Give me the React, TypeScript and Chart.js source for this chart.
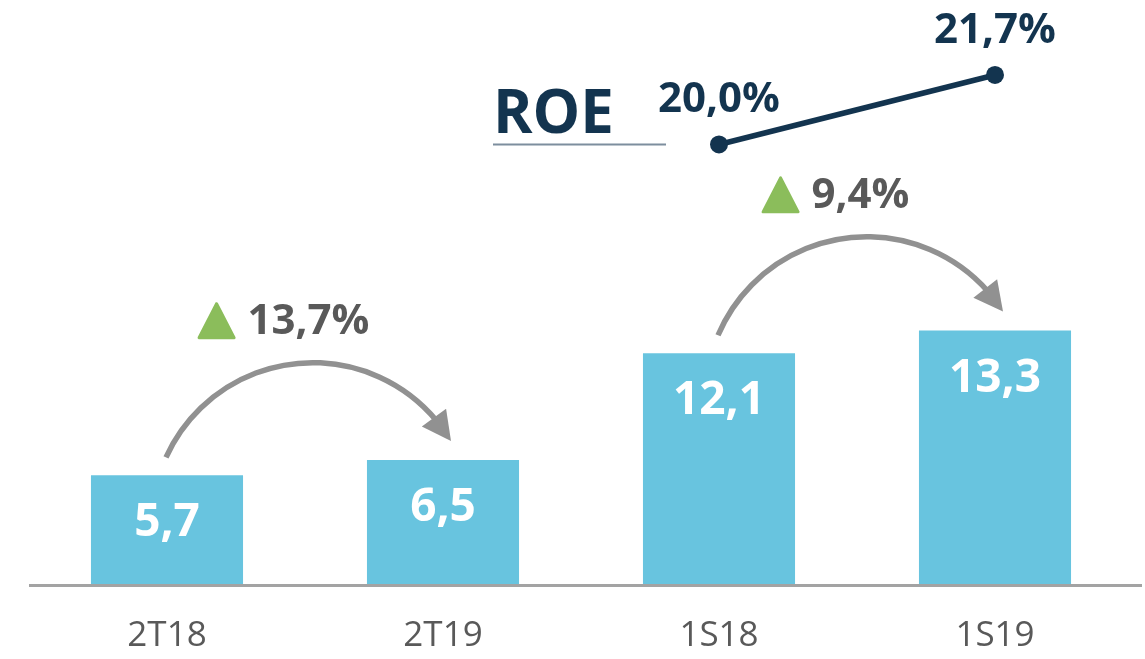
import React, { useEffect, useRef } from 'react';
import { Chart, registerables } from 'chart.js';

Chart.register(...registerables);

// ---- data ----
const categories = ['2T18', '2T19', '1S18', '1S19'];
const revenue = [5.7, 6.5, 12.1, 13.3];
const roe: (number | null)[] = [null, null, 20.0, 21.7];
const growthPairs = [
  [0, 1],
  [2, 3],
];
const growthLabels = ['13,7%', '9,4%'];
const roeTitle = 'ROE';

// ---- style ----
const BAR_COLOR = '#68C4DF';
const NAVY = '#13344F';
const GREY_TEXT = '#595959';
const ARROW_GREY = '#919191';
const AXIS_GREY = '#A3A3A3';
const GREEN = '#8BBD5B';
const FONT = '"Open Sans", "DejaVu Sans", sans-serif';

const fmt = (v: number) => v.toFixed(1).replace('.', ',');

const overlayPlugin = {
  id: 'overlay',
  beforeDatasetsDraw(chart: any) {
    const { ctx, chartArea, scales } = chart;
    const y0 = scales.y.getPixelForValue(0);
    ctx.save();
    ctx.strokeStyle = AXIS_GREY;
    ctx.lineWidth = 3;
    ctx.beginPath();
    ctx.moveTo(chartArea.left, y0 + 1.5);
    ctx.lineTo(chart.width - 3, y0 + 1.5);
    ctx.stroke();
    ctx.restore();
  },
  afterDatasetsDraw(chart: any) {
    const ctx = chart.ctx as CanvasRenderingContext2D;
    const bars = chart.getDatasetMeta(0).data;
    const pts = chart.getDatasetMeta(1).data;
    ctx.save();

    // bar value labels
    ctx.font = `bold 46px ${FONT}`;
    ctx.fillStyle = '#FFFFFF';
    ctx.textAlign = 'center';
    ctx.textBaseline = 'middle';
    bars.forEach((b: any, i: number) => {
      ctx.fillText(fmt(revenue[i]), b.x, b.y + 48);
    });

    // growth arrows
    growthPairs.forEach(([a, b], k) => {
      const A = bars[a];
      const B = bars[b];
      const sx = A.x - 1;
      const sy = A.y - 18;
      const ex = B.x + 8;
      const ey = B.y - 19;
      const px = (sx + ex) / 2;
      const py = (A.y + B.y) / 2 - 105;
      // circumcircle through start, apex and tip
      const d = 2 * (sx * (py - ey) + px * (ey - sy) + ex * (sy - py));
      const s1 = sx * sx + sy * sy;
      const s2 = px * px + py * py;
      const s3 = ex * ex + ey * ey;
      const ux = (s1 * (py - ey) + s2 * (ey - sy) + s3 * (sy - py)) / d;
      const uy = (s1 * (ex - px) + s2 * (sx - ex) + s3 * (px - sx)) / d;
      const r = Math.hypot(sx - ux, sy - uy);
      const a1 = Math.atan2(sy - uy, sx - ux);
      const a2 = Math.atan2(ey - uy, ex - ux);
      const headLen = 29;
      const headW = 30;
      ctx.strokeStyle = ARROW_GREY;
      ctx.lineWidth = 5.5;
      ctx.lineCap = 'butt';
      ctx.beginPath();
      ctx.arc(ux, uy, r, a1, a2 - (headLen - 4) / r, false);
      ctx.stroke();
      // head
      const aHead = a2 - (headLen * 0.5) / r;
      const tx = -Math.sin(aHead);
      const ty = Math.cos(aHead);
      const bx = ex - tx * headLen;
      const by = ey - ty * headLen;
      const nx = -ty;
      const ny = tx;
      ctx.fillStyle = ARROW_GREY;
      ctx.beginPath();
      ctx.moveTo(ex, ey);
      ctx.lineTo(bx + (nx * headW) / 2, by + (ny * headW) / 2);
      ctx.lineTo(bx - (nx * headW) / 2, by - (ny * headW) / 2);
      ctx.closePath();
      ctx.fill();

      // growth label with green triangle
      const label = growthLabels[k];
      ctx.font = `bold 42px ${FONT}`;
      const tw = ctx.measureText(label).width;
      const triW = 38;
      const triH = 37;
      const gap = 12;
      const groupW = triW + gap + tw;
      const gx = px - 25 - groupW / 2;
      const cy = py - 42;
      ctx.fillStyle = GREEN;
      ctx.strokeStyle = GREEN;
      ctx.lineWidth = 3;
      ctx.lineJoin = 'round';
      ctx.beginPath();
      ctx.moveTo(gx + 1.5, cy + triH / 2 - 1.5);
      ctx.lineTo(gx + triW - 1.5, cy + triH / 2 - 1.5);
      ctx.lineTo(gx + triW / 2, cy - triH / 2 + 1.5);
      ctx.closePath();
      ctx.fill();
      ctx.stroke();
      ctx.fillStyle = GREY_TEXT;
      ctx.textAlign = 'left';
      ctx.textBaseline = 'middle';
      ctx.fillText(label, gx + triW + gap, cy + 1);
    });

    // ROE labels
    ctx.font = `bold 42px ${FONT}`;
    ctx.fillStyle = NAVY;
    ctx.textAlign = 'center';
    ctx.textBaseline = 'middle';
    pts.forEach((p: any, i: number) => {
      const v = roe[i];
      if (v == null || p.skip) return;
      ctx.fillText(fmt(v) + '%', p.x, p.y - 44);
    });

    // ROE title + underline, anchored to the first ROE point
    const first = pts.find((p: any, i: number) => roe[i] != null);
    if (first) {
      ctx.font = `bold 60px ${FONT}`;
      ctx.textAlign = 'left';
      ctx.textBaseline = 'alphabetic';
      ctx.fillStyle = NAVY;
      ctx.fillText(roeTitle, first.x - 226, first.y - 11.5);
      ctx.strokeStyle = '#7D8E9E';
      ctx.lineWidth = 2;
      ctx.beginPath();
      ctx.moveTo(first.x - 226, first.y);
      ctx.lineTo(first.x - 53, first.y);
      ctx.stroke();
    }
    ctx.restore();
  },
};

export default function App() {
  const ref = useRef<HTMLCanvasElement | null>(null);
  useEffect(() => {
    if (!ref.current) return;
    Chart.defaults.font.family = FONT;
    const chart = new Chart(ref.current, {
      type: 'bar',
      data: {
        labels: categories,
        datasets: [
          {
            type: 'bar',
            data: revenue,
            backgroundColor: BAR_COLOR,
            borderWidth: 0,
            categoryPercentage: 1,
            barPercentage: 0.551,
            yAxisID: 'y',
            order: 2,
          },
          {
            type: 'line',
            data: roe as any,
            borderColor: NAVY,
            backgroundColor: NAVY,
            borderWidth: 5.5,
            pointRadius: 9,
            pointBorderWidth: 0,
            pointBackgroundColor: NAVY,
            yAxisID: 'y2',
            order: 1,
          },
        ],
      } as any,
      options: {
        responsive: false,
        animation: false,
        events: [],
        layout: { padding: { top: 12, left: 29, right: 12, bottom: 3 } },
        plugins: {
          legend: { display: false },
          tooltip: { enabled: false },
        },
        scales: {
          x: {
            grid: { display: false, drawTicks: false },
            border: { display: false },
            ticks: {
              color: GREY_TEXT,
              font: { family: FONT, size: 35 },
              padding: 31,
            },
            afterFit: (scale: any) => {
              scale.height = 72;
            },
          },
          y: { display: false, min: 0, max: 30 },
          y2: { display: false, min: 9.25, max: 23.24 },
        },
      },
      plugins: [overlayPlugin],
    } as any);
    return () => chart.destroy();
  }, []);
  return (
    <div style={{ position: 'fixed', left: 0, top: 0, width: 1145, height: 659 }}>
      <canvas ref={ref} width={1145} height={659} style={{ display: 'block' }} />
    </div>
  );
}
